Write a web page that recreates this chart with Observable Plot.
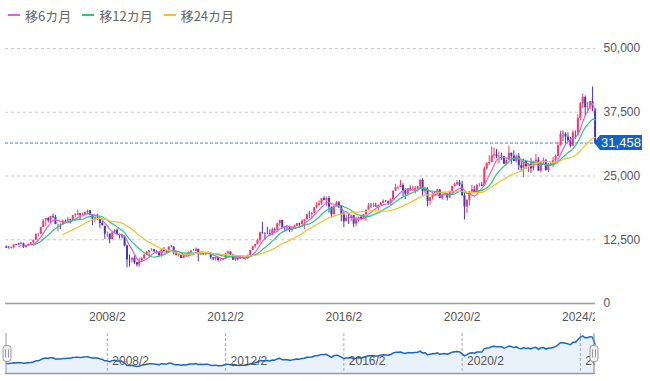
<!DOCTYPE html>
<html><head><meta charset="utf-8">
<script src="https://cdn.jsdelivr.net/npm/d3@7"></script>
<script src="https://cdn.jsdelivr.net/npm/@observablehq/plot@0.6"></script>
<style>
body{margin:0;background:#fff;width:650px;height:381px;overflow:hidden;font-family:"Liberation Sans",Arial,sans-serif}
#legend{height:30px;display:flex;align-items:center;padding-left:8px;font:13px "Noto Sans CJK JP",sans-serif;color:#666}
.item{display:flex;align-items:center;margin-right:11px}
.sw{width:12px;height:2px;margin-right:5px;display:inline-block}
svg{display:block}
</style></head><body>
<div id="legend"></div>
<div id="main"></div>
<div id="xlab"></div>
<div id="nav"></div>
<script>
// Monthly OHLC, 2004/9 .. 2024/8
const firstMonth = [2004, 8]; // UTC year, month index (September)
const opens = [
11080,10830,10780,10910,
11520,11390,11750,11700,11010,11290,11600,11900,12420,13580,13600,14880,
16360,16650,16200,17060,16900,15470,15500,15460,16140,16130,16400,16280,
17230,17380,17600,17290,17400,17880,18140,17250,16570,16790,16740,15680,
15160,13600,13600,12530,13850,14340,13480,13380,13070,11260,8580,8510,
8860,7990,7570,8110,8830,9520,9960,10360,10490,10130,10030,9350,
10550,10200,10130,11090,11060,9770,9380,9540,8820,9370,9200,9940,
10230,10240,10620,9760,9850,9690,9820,9830,8960,8700,8990,8430,
8550,8800,9720,10080,9520,8540,9000,8700,8840,8870,8930,9450,
10400,11140,11560,12400,13860,13780,13680,13670,13390,14460,14330,15660,
16290,14910,14840,14830,14300,14630,15160,15620,15430,16170,16410,17460,
17450,17670,18800,19210,19520,20560,20240,20580,18890,17390,19080,19750,
19030,17520,16030,16760,16670,17240,15580,16570,16890,16450,17420,18310,
19110,19040,19120,18910,19200,19650,20030,19930,19650,20360,22010,22730,
22760,23100,22070,21450,22470,22200,22310,22550,22870,24120,21920,22350,
20010,20780,21390,21210,22260,20600,21280,21520,20700,21760,22930,23290,
23660,23210,21140,18920,20190,21880,22290,21710,23140,23190,22980,26430,
27440,27660,28970,29180,28810,28860,28790,27280,28090,29450,28890,27820,
28790,27000,26530,27820,26850,27280,26390,27800,28090,25940,27590,27970,
26090,27330,27450,28040,28860,30890,33190,33170,32620,31860,30860,33490,
33460,36290,39170,40370,38400,38490,39580,38130];
const highs = [
11300,11200,11150,11500,
11530,11800,12010,11840,11300,11640,11900,12420,13620,13780,14900,16450,
16700,16850,17100,17560,17300,15600,15580,16380,16400,16900,16500,17300,
17620,18300,17630,17740,17900,18300,18260,17450,16900,17490,16800,16140,
15160,14030,13650,13920,14490,14600,13600,13600,13190,11460,9520,8960,
9320,8020,8850,9000,9630,10170,10360,10770,10620,10340,10150,10640,
10980,10440,11100,11410,11100,10240,9800,9700,9630,9600,10120,10370,
10590,10890,10650,9850,10020,9850,10140,9870,9000,9150,9050,8720,
8850,9870,10260,10110,9540,9030,9140,9220,9290,9180,9460,10430,
11190,11660,12650,14000,15940,13800,14950,14470,14820,14800,15750,16320,
16320,14920,15310,14850,14820,15400,15650,15760,16370,16530,17520,18030,
17850,18800,19780,20130,20570,20950,20850,20950,18900,19090,20010,20010,
19030,17900,17290,17610,17250,17250,16940,16940,17100,17450,18370,19590,
19620,19670,19670,19290,19830,20320,20200,20100,20480,22020,23380,23000,
24130,23490,22500,22520,23050,23000,22950,23000,24290,24450,22700,22700,
20870,21560,21860,22360,22300,21480,21820,21540,22100,22980,23600,24090,
24120,24000,21720,20370,21950,23180,23000,23340,23560,23720,26800,27600,
28980,30710,30480,30210,29690,29490,28800,28170,30800,29490,29960,29120,
29390,27880,28340,27830,27370,28390,27900,29220,28620,27590,28500,28230,
27460,27720,28620,29120,31560,33770,33850,33490,33430,32530,33850,33850,
36980,39430,41090,40700,39440,39590,42430,38130];
const lows = [
10820,10660,10690,10700,
11240,11350,11560,10770,10825,11180,11560,11780,12350,13060,13500,14880,
15060,15800,15600,16640,15470,14040,14430,15300,15600,16100,15600,16100,
16880,17160,16530,17220,17200,17600,17250,15270,15800,16300,14670,15150,
12570,12900,11690,12500,13600,13480,12670,12660,11110,6995,7160,7900,
7670,7160,7050,8050,8610,9380,9050,10250,9990,9670,9080,9100,
10150,9870,10100,10900,9530,9380,9090,8800,8800,9030,9120,9940,
10230,10220,8230,9420,9410,9350,9780,8650,8350,8340,8160,8280,
8380,8780,9720,9380,8440,8240,8330,8590,8790,8490,8620,9380,
10400,10870,11480,11800,13550,12420,13470,13190,13380,13850,13970,15130,
14620,13990,14200,13880,13960,14620,15060,14750,15430,14530,16410,16670,
16590,17560,18570,19030,19260,20090,19120,17710,16900,17390,19080,18600,
16020,14870,16030,15470,16000,14860,15110,15950,16360,16400,16110,18310,
18650,18800,18900,18220,19200,19650,19850,19280,19240,20360,21970,22290,
22760,20950,20350,21080,21930,22000,21460,21850,22530,20970,21250,18950,
19240,20310,20910,21200,20600,20290,21070,20110,20570,21280,22850,23040,
22890,21000,16360,17640,19130,21530,21710,21710,22840,22950,22950,26150,
27050,27660,28310,28420,27380,28010,27270,26950,28090,27290,27820,27580,
26040,25780,24680,26320,25690,25520,25930,27590,25930,25620,27200,25950,
25660,27150,26630,27430,28860,30890,31790,31270,31740,30490,30860,32200,
32690,35850,38270,36730,37620,37950,37610,31160];
const closes = [
10823,10771,10899,11488,
11387,11740,11668,11008,11276,11584,11899,12413,13574,13606,14872,16111,
16650,16205,17059,16906,15467,15505,15457,16140,16127,16399,16274,17225,
17383,17604,17287,17400,17875,18138,17248,16569,16785,16737,15680,15307,
13592,13603,12525,13849,14338,13481,13376,13072,11259,8576,8512,8859,
7994,7568,8109,8828,9522,9958,10356,10492,10133,10034,9345,10546,
10198,10126,11089,11057,9768,9382,9537,8824,9369,9202,9937,10228,
10237,10624,9755,9849,9693,9816,9833,8955,8700,8988,8434,8455,
8802,9723,10083,9520,8542,9006,8695,8840,8870,8928,9446,10395,
11138,11559,12397,13860,13775,13677,13668,13389,14456,14327,15662,16291,
14914,14841,14828,14304,14632,15162,15621,15425,16174,16414,17460,17451,
17674,18798,19207,19520,20563,20236,20585,18890,17388,19083,19747,19034,
17518,16027,16759,16666,17235,15576,16569,16887,16450,17425,18308,19114,
19041,19119,18909,19197,19651,20033,19925,19646,20356,22012,22725,22765,
23098,22068,21454,22468,22202,22305,22554,22865,24120,21920,22351,20015,
20773,21385,21206,22259,20601,21276,21522,20704,21756,22927,23294,23657,
23205,21143,18917,20194,21878,22288,21710,23140,23185,22977,26434,27444,
27663,28966,29179,28813,28860,28792,27284,28090,29453,28893,27822,28792,
27002,26527,27821,26848,27280,26393,27802,28092,25937,27587,27969,26095,
27327,27446,28041,28856,30888,33189,33172,32619,31858,30859,33487,33464,
36287,39166,40369,38406,38488,39583,39102,31458];

const yTicks = [0, 12500, 25000, 37500, 50000];
const xTickLabels = ["2008/2", "2012/2", "2016/2", "2020/2", "2024/2"];
const maSeries = [
  {name: "移6カ月", k: 6, color: "#d862df"},
  {name: "移12カ月", k: 12, color: "#2cc57d"},
  {name: "移24カ月", k: 24, color: "#f1c22c"}
];
const UP = "#f53a6b", DOWN = "#3f36c4";

// ---- build table ----
const months = d3.utcMonth.range(new Date(Date.UTC(firstMonth[0], firstMonth[1], 1)),
                                 new Date(Date.UTC(firstMonth[0], firstMonth[1] + closes.length, 1)));
const data = months.map((date, i) => ({date, open: opens[i], high: highs[i], low: lows[i], close: closes[i],
  color: closes[i] >= opens[i] ? UP : DOWN}));
const lastPrice = closes[closes.length - 1];
const xTicks = xTickLabels.map(s => { const [y, m] = s.split("/").map(Number); return new Date(Date.UTC(y, m - 1, 1)); });

const W = 650, ML = 5, MR = 55;
const xDomain = [new Date(Date.UTC(2004, 7, 22)), new Date(Date.UTC(2024, 7, 6))];
const font = {fontFamily: "'Liberation Sans', Arial, sans-serif", fontSize: "12px", color: "#555", background: "transparent"};

// ---- legend ----
const leg = d3.select("#legend");
for (const s of maSeries) {
  const it = leg.append("div").attr("class", "item");
  it.append("span").attr("class", "sw").style("background", s.color);
  it.append("span").text(s.name);
}

// ---- price tag mark ----
function priceTag(value) {
  return (index, scales, values, dims) => {
    const y = scales.y(value);
    const x0 = dims.width - dims.marginRight - 1;
    const g = d3.create("svg:g");
    g.append("path").attr("d", `M${x0},${y}L${x0 + 6},${y - 7.5}H${x0 + 48}V${y + 7.5}H${x0 + 6}Z`).attr("fill", "#1263c4");
    g.append("text").attr("x", x0 + 27).attr("y", y).attr("dy", "0.36em").attr("text-anchor", "middle")
      .attr("fill", "#fff").attr("font-size", 13).attr("font-family", "'Liberation Sans', Arial, sans-serif")
      .text(d3.format(",")(value));
    return g.node();
  };
}

// ---- main chart ----
const main = Plot.plot({
  width: W, height: 281, marginLeft: ML, marginRight: MR, marginTop: 18, marginBottom: 8,
  style: font,
  x: {type: "utc", domain: xDomain, axis: null},
  y: {domain: [0, 50000], axis: "right", ticks: yTicks, tickFormat: d3.format(","), tickSize: 0, tickPadding: 8, label: null},
  marks: [
    Plot.gridY(yTicks.filter(d => d > 0), {stroke: "#c9c9c9", strokeOpacity: 1, strokeDasharray: "3,3"}),
    Plot.ruleY([0], {stroke: "#9a9a9a", strokeWidth: 1.5}),
    Plot.ruleY([lastPrice], {stroke: "#4a82cc", strokeDasharray: "3,2"}),
    Plot.ruleX(data, {x: "date", y1: "low", y2: "high", stroke: "color", strokeWidth: 1}),
    Plot.ruleX(data, {x: "date", y1: "open", y2: "close", stroke: "color", strokeWidth: 2}),
    ...maSeries.map(s => Plot.lineY(data, Plot.windowY({k: s.k, anchor: "end", strict: true, reduce: "mean"},
      {x: "date", y: "close", stroke: s.color, strokeWidth: 1.2}))),
    priceTag(lastPrice)
  ]
});
document.getElementById("main").append(main);

// ---- x labels (clipped at plot edge) ----
const fmt = d => `${d.getUTCFullYear()}/${d.getUTCMonth() + 1}`;
const xl = Plot.plot({
  width: W, height: 14, marginLeft: ML, marginRight: MR, marginTop: 0, marginBottom: 0,
  style: font,
  x: {type: "utc", domain: xDomain, axis: null},
  y: {domain: [0, 1], axis: null},
  marks: [Plot.text(xTicks, {x: d => d, frameAnchor: "middle", dy: -1, text: fmt, clip: true, fill: "#555", fontSize: 12})]
});
document.getElementById("xlab").append(xl);

// ---- navigator ----
function handles(index, scales, values, dims) {
  const g = d3.create("svg:g");
  const x0 = dims.marginLeft, x1 = dims.width - dims.marginRight;
  const top = dims.marginTop, bot = dims.height - dims.marginBottom;
  const yc = (top + bot) / 2 + 0.5;
  g.append("line").attr("x1", x1 - 1).attr("x2", x1 - 1).attr("y1", top).attr("y2", bot).attr("stroke", "#888");
  g.append("line").attr("x1", x0 + 1).attr("x2", x0 + 1).attr("y1", top).attr("y2", bot).attr("stroke", "#999");
  for (const x of [x0 + 2, x1 - 1]) {
    g.append("rect").attr("x", x - 4).attr("y", yc - 8).attr("width", 8).attr("height", 16).attr("rx", 3)
      .attr("fill", "#f2f2f2").attr("stroke", "#999");
    g.append("path").attr("d", `M${x - 1.5},${yc - 4}V${yc + 4}M${x + 1.5},${yc - 4}V${yc + 4}`).attr("stroke", "#999");
  }
  return g.node();
}
const nav = Plot.plot({
  width: W, height: 56, marginLeft: ML, marginRight: MR, marginTop: 8, marginBottom: 8,
  style: font,
  x: {type: "utc", domain: xDomain, axis: null},
  y: {domain: [0, 43000], axis: null},
  marks: [
    Plot.areaY(data, {x: "date", y: "close", fill: "#e9f2fb"}),
    Plot.ruleX(xTicks, {stroke: "#aaa", strokeDasharray: "3,2"}),
    Plot.lineY(data, {x: "date", y: "close", stroke: "#1d66c0", strokeWidth: 1.5}),
    Plot.text(xTicks, {x: d => d, text: fmt, textAnchor: "start", dx: 5, frameAnchor: "bottom", dy: -9, clip: true, fill: "#555", fontSize: 12}),
    Plot.ruleY([0], {stroke: "#999", strokeWidth: 1.5}),
    handles
  ]
});
document.getElementById("nav").append(nav);
</script></body></html>
